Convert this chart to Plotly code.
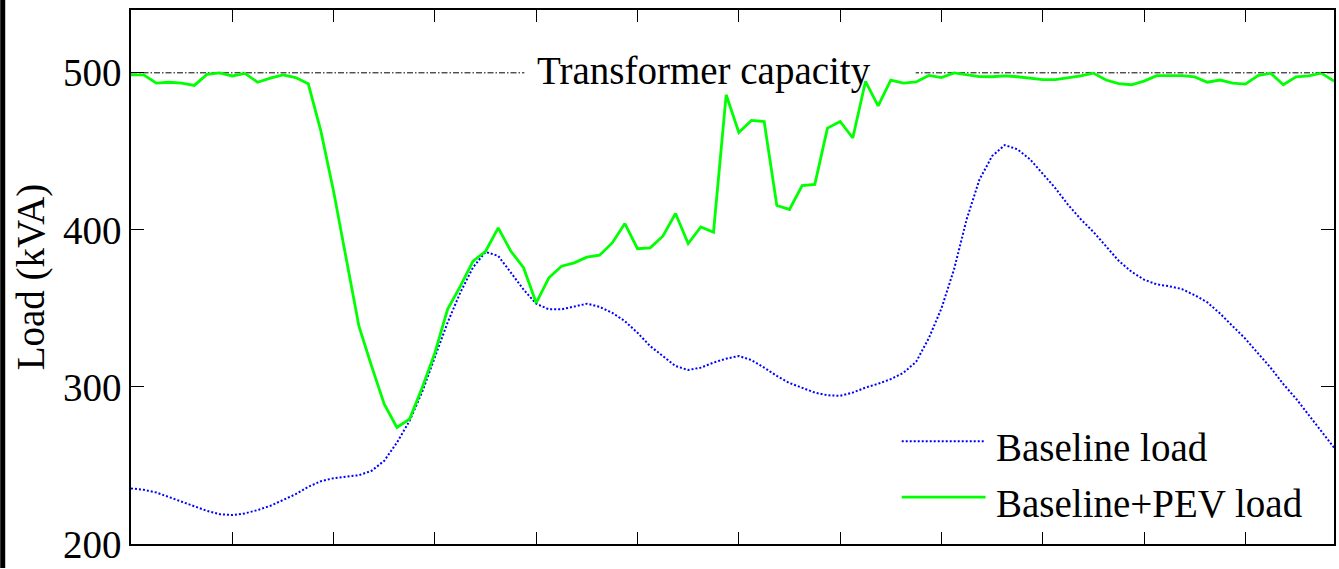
import plotly.graph_objects as go

# 15-minute time steps over one day (hours)
time_h = [i * 0.25 for i in range(96)]

baseline_load = [
    235.4, 234.5, 232.8, 230.0, 226.9, 224.0, 221.1, 219.0, 218.4, 219.5,
    221.6, 224.3, 227.9, 231.7, 236.4, 240.0, 241.9, 243.0, 243.8, 246.6,
    253.0, 264.6, 278.4, 297.0, 319.0, 341.0, 360.0, 376.0, 386.0, 383.4,
    372.8, 362.0, 353.0, 349.4, 349.4, 351.0, 353.0, 351.0, 347.2, 341.9,
    334.5, 326.0, 319.7, 313.3, 310.8, 312.3, 315.5, 318.0, 319.7, 317.1,
    312.3, 307.0, 302.5, 299.6, 296.4, 294.7, 294.3, 296.4, 299.6, 302.0,
    305.0, 309.0, 316.0, 331.0, 350.0, 375.0, 407.0, 432.0, 447.0, 454.0,
    451.3, 444.9, 435.7, 426.5, 416.0, 406.8, 398.7, 389.5, 380.3, 373.4,
    368.3, 365.3, 364.1, 362.3, 358.4, 353.8, 346.8, 338.7, 330.7, 321.4,
    312.2, 301.8, 292.6, 282.2, 271.8, 261.4,
]

pev_load = [
    498.7, 498.7, 493.4, 494.0, 493.4, 492.0, 499.0, 500.0, 498.0, 499.6,
    494.0, 496.6, 498.7, 497.0, 493.0, 462.7, 424.4, 381.0, 338.7, 313.3,
    289.0, 274.2, 279.6, 299.6, 321.8, 349.4, 364.0, 380.0, 386.4, 401.3,
    386.4, 375.9, 353.5, 369.5, 376.9, 379.0, 382.6, 383.9, 391.7, 404.0,
    388.0, 388.6, 396.0, 410.4, 391.3, 401.9, 398.5, 486.0, 462.0, 469.7,
    469.0, 415.5, 413.0, 428.2, 429.0, 464.8, 469.0, 458.5, 494.5, 479.0,
    495.3, 493.4, 494.2, 498.3, 497.0, 500.0, 498.8, 497.6, 497.5, 498.0,
    497.5, 496.8, 495.7, 495.7, 496.8, 498.0, 499.8, 495.4, 493.1, 492.4,
    494.7, 498.2, 498.2, 498.2, 497.4, 494.0, 495.4, 493.5, 492.8, 498.2,
    499.8, 492.4, 497.5, 498.0, 499.8, 494.7,
]

CAPACITY = 500
y_ticks = [200, 300, 400, 500]
series_names = ["Baseline load", "Baseline+PEV load"]
capacity_label = "Transformer capacity"
y_title = "Load (kVA)"

FONT = "'Liberation Serif', 'Times New Roman', 'DejaVu Serif', serif"
FS = 39
BLUE = "#0000ff"
GREEN = "#00ff00"
BLUE_DASH = "2px,2px"

fig = go.Figure()
fig.add_trace(go.Scatter(x=time_h, y=baseline_load, mode="lines", name=series_names[0],
                         line=dict(color=BLUE, width=2, dash=BLUE_DASH), showlegend=False))
fig.add_trace(go.Scatter(x=time_h, y=pev_load, mode="lines", name=series_names[1],
                         line=dict(color=GREEN, width=2.8), showlegend=False))

W, H = 1339, 569
ML, MR, MT, MB = 131, 3, 10, 24
PW, PH = W - ML - MR, H - MT - MB

def px_x(p):
    return (p - ML) / PW

def px_y(p):
    return (H - MB - p) / PH

shapes = [
    # capacity line
    dict(type="line", xref="paper", x0=0, x1=1, yref="y", y0=CAPACITY, y1=CAPACITY,
         line=dict(color="black", width=1, dash="6px,2px,1.5px,2px"), layer="below"),
    # white box behind the capacity label
    dict(type="rect", xref="paper", x0=px_x(525), x1=px_x(917), yref="paper",
         y0=px_y(95), y1=px_y(50), fillcolor="white", line=dict(width=0), layer="below"),
    # legend samples
    dict(type="line", xref="paper", x0=px_x(903), x1=px_x(987), yref="paper",
         y0=px_y(442), y1=px_y(442), line=dict(color=BLUE, width=2, dash=BLUE_DASH)),
    dict(type="line", xref="paper", x0=px_x(903), x1=px_x(987), yref="paper",
         y0=px_y(498), y1=px_y(498), line=dict(color=GREEN, width=2.8)),
    # dark strip at the left edge of the original picture
    dict(type="rect", xref="paper", x0=px_x(0), x1=px_x(5), yref="paper",
         y0=px_y(H), y1=px_y(0), fillcolor="black", line=dict(width=0)),
]

annotations = [
    dict(text=capacity_label, xref="paper", x=px_x(536), xanchor="left",
         yref="paper", y=px_y(71), yanchor="middle", showarrow=False,
         font=dict(family=FONT, size=FS, color="black")),
    dict(text=series_names[0], xref="paper", x=px_x(995), xanchor="left",
         yref="paper", y=px_y(448), yanchor="middle", showarrow=False,
         font=dict(family=FONT, size=FS, color="black")),
    dict(text=series_names[1], xref="paper", x=px_x(995), xanchor="left",
         yref="paper", y=px_y(504), yanchor="middle", showarrow=False,
         font=dict(family=FONT, size=FS, color="black")),
]

fig.update_layout(
    width=W, height=H, autosize=False,
    margin=dict(l=ML, r=MR, t=MT, b=MB, pad=0),
    paper_bgcolor="white", plot_bgcolor="white",
    font=dict(family=FONT, size=FS, color="black"),
    shapes=shapes, annotations=annotations,
    showlegend=False,
    xaxis=dict(range=[0, 23.75], tick0=0, dtick=2, ticks="inside", ticklen=12,
               tickwidth=1, tickcolor="black", showticklabels=False,
               showline=True, linecolor="black", linewidth=1.5, mirror="ticks",
               showgrid=False, zeroline=False),
    yaxis=dict(range=[200, 540], tickvals=y_ticks, ticks="inside", ticklen=13,
               tickwidth=1, tickcolor="black", ticklabelstandoff=0,
               tickfont=dict(family=FONT, size=FS, color="black"),
               showline=True, linecolor="black", linewidth=1.5, mirror="ticks",
               showgrid=False, zeroline=False,
               title=dict(text=y_title, font=dict(family=FONT, size=FS, color="black"),
                          standoff=6)),
)

fig.write_html(
    "out.html",
    config={"displayModeBar": False},
    post_script="document.body.style.margin='0';document.body.style.overflow='hidden';",
)
